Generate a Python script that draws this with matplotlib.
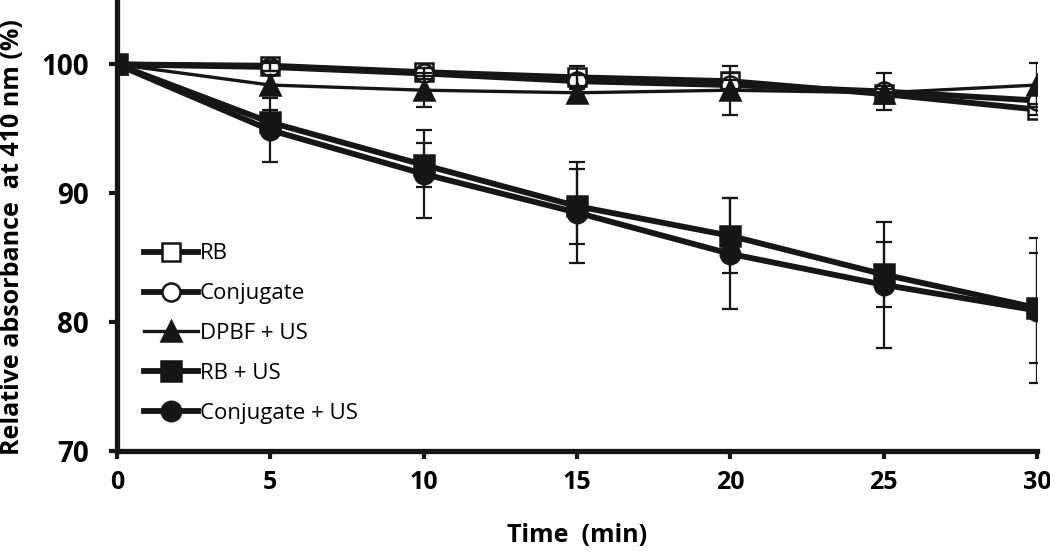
import numpy as np
import matplotlib
matplotlib.use("Agg")
import matplotlib.pyplot as plt

# time points (min)
tiempo = [0, 5, 10, 15, 20, 25, 30]

# relative absorbance at 410 nm (%) and error bars
rb = [100, 99.9, 99.4, 99.0, 98.7, 97.7, 96.5]
rb_err = [0, 0.4, 0.3, 0.9, 0.6, 0.4, 0.4]
conjugado = [100, 99.8, 99.3, 98.7, 98.4, 97.9, 97.2]
conjugado_err = [0, 0.3, 0.4, 0.5, 0.4, 1.4, 0.5]
dpbf_us = [100, 98.4, 98.0, 97.8, 98.0, 97.8, 98.4]
dpbf_us_err = [0, 0.8, 1.3, 0.5, 1.9, 0.5, 1.7]
rb_us = [100, 95.5, 92.2, 89.0, 86.7, 83.7, 81.1]
rb_us_err = [0, 1.0, 1.7, 2.9, 2.9, 2.5, 4.3]
conjugado_us = [100, 94.9, 91.5, 88.5, 85.3, 82.9, 80.9]
conjugado_us_err = [0, 2.5, 3.4, 3.9, 4.3, 4.9, 5.6]

etiquetas = ["RB", "Conjugate", "DPBF + US", "RB + US", "Conjugate + US"]

negro = "#161616"
plt.rcParams['font.family'] = ['Open Sans', 'DejaVu Sans']

fig = plt.figure(figsize=(10.5, 5.52), dpi=100)
ax = fig.add_axes([0.1114, 0.183, 0.8762, 0.817])

series = [
    (rb, rb_err, dict(marker='s', mfc='white', lw=4.2, ms=13)),
    (conjugado, conjugado_err, dict(marker='o', mfc='white', lw=4.2, ms=13)),
    (dpbf_us, dpbf_us_err, dict(marker='^', mfc=negro, lw=2.4, ms=14)),
    (rb_us, rb_us_err, dict(marker='s', mfc=negro, lw=4.2, ms=14)),
    (conjugado_us, conjugado_us_err, dict(marker='o', mfc=negro, lw=4.2, ms=14)),
]

for (vals, errs, estilo), nombre in zip(series, etiquetas):
    ax.plot(tiempo, vals, color=negro, mec=negro, mew=1.8, label=nombre,
            zorder=3, **estilo)
    ax.errorbar(tiempo, vals, yerr=errs, fmt='none', ecolor=negro,
                elinewidth=1.6, capsize=6, capthick=1.6, zorder=4)

ax.set_xlim(0, 30)
ax.set_ylim(70, 105)
ax.set_xticks([0, 5, 10, 15, 20, 25, 30])
ax.set_yticks([70, 80, 90, 100])

for lado in ['top', 'right']:
    ax.spines[lado].set_visible(False)
for lado in ['left', 'bottom']:
    ax.spines[lado].set_linewidth(3.8)
    ax.spines[lado].set_color(negro)

ax.tick_params(axis='both', direction='out', length=6, width=3, color=negro)
ax.tick_params(axis='y', labelsize=20, pad=14)
ax.tick_params(axis='x', labelsize=18, pad=8)
for t in ax.get_xticklabels() + ax.get_yticklabels():
    t.set_fontweight('bold')

ax.set_xlabel("Time  (min)", fontsize=18, fontweight='bold', labelpad=20)
ax.set_ylabel("Relative absorbance  at 410 nm (%)", fontsize=18,
              fontweight='bold')
ax.yaxis.set_label_coords(-0.1, 0.474)

ax.legend(loc='upper left', bbox_to_anchor=(0.02, 0.48), frameon=False,
          fontsize=16, handlelength=2.4, handletextpad=0.1, labelspacing=0.85,
          borderaxespad=0)

fig.savefig("out.png", dpi=100)
